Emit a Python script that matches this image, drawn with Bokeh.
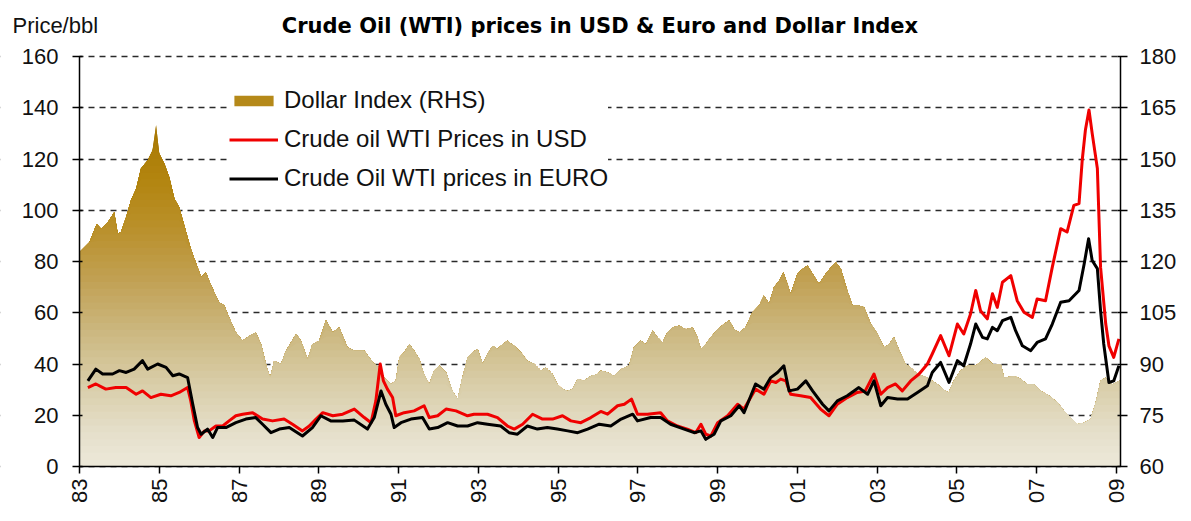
import math
import numpy as np
from bokeh.plotting import figure
from bokeh.models import Range1d, LinearAxis, FixedTicker, Legend, LegendItem, Label
from bokeh.core.properties import value
from bokeh.embed import file_html
from bokeh.resources import INLINE

# ---------------- data ----------------
TITLE = "Crude Oil (WTI) prices in USD & Euro and Dollar Index"
Y_LABEL = "Price/bbl"
LEFT_TICKS = [0, 20, 40, 60, 80, 100, 120, 140, 160]
RIGHT_TICKS = [60, 75, 90, 105, 120, 135, 150, 165, 180]
X_TICKS = [1983, 1985, 1987, 1989, 1991, 1993, 1995, 1997, 1999, 2001, 2003, 2005, 2007, 2009]
X_LABELS = ["83", "85", "87", "89", "91", "93", "95", "97", "99", "01", "03", "05", "07", "09"]
SERIES_NAMES = ["Dollar Index (RHS)", "Crude oil WTI Prices in USD", "Crude Oil WTI prices in EURO"]

DOLLAR_YEARS = [1983.00, 1983.25, 1983.43, 1983.54, 1983.71, 1983.87, 1983.96, 1984.04, 1984.17, 1984.29,
                1984.42, 1984.54, 1984.71, 1984.83, 1984.92, 1985.00, 1985.13, 1985.25, 1985.38, 1985.50,
                1985.63, 1985.79, 1985.96, 1986.05, 1986.17, 1986.25, 1986.38, 1986.50, 1986.63, 1986.75,
                1986.92, 1987.09, 1987.26, 1987.42, 1987.55, 1987.72, 1987.78, 1987.88, 1988.05, 1988.18,
                1988.43, 1988.55, 1988.72, 1988.84, 1989.01, 1989.18, 1989.35, 1989.51, 1989.72, 1989.89,
                1990.14, 1990.26, 1990.39, 1990.51, 1990.64, 1990.81, 1990.93, 1991.02, 1991.14, 1991.27,
                1991.39, 1991.52, 1991.64, 1991.77, 1991.89, 1992.02, 1992.19, 1992.35, 1992.48, 1992.60,
                1992.73, 1992.85, 1992.98, 1993.11, 1993.23, 1993.36, 1993.48, 1993.61, 1993.73, 1993.90,
                1994.07, 1994.23, 1994.40, 1994.57, 1994.69, 1994.86, 1994.98, 1995.11, 1995.24, 1995.36,
                1995.49, 1995.65, 1995.82, 1995.99, 1996.07, 1996.24, 1996.40, 1996.58, 1996.78, 1996.90,
                1997.07, 1997.20, 1997.37, 1997.49, 1997.62, 1997.74, 1997.87, 1998.03, 1998.20, 1998.37,
                1998.49, 1998.58, 1998.70, 1998.83, 1999.00, 1999.16, 1999.29, 1999.41, 1999.54, 1999.70,
                1999.87, 2000.04, 2000.16, 2000.29, 2000.41, 2000.54, 2000.65, 2000.75, 2000.83, 2001.00,
                2001.13, 2001.25, 2001.38, 2001.54, 2001.71, 2001.88, 2001.96, 2002.09, 2002.25, 2002.38,
                2002.54, 2002.67, 2002.84, 2003.01, 2003.17, 2003.30, 2003.42, 2003.59, 2003.71, 2003.84,
                2004.01, 2004.26, 2004.51, 2004.67, 2004.79, 2004.92, 2005.09, 2005.26, 2005.47, 2005.72,
                2005.89, 2006.10, 2006.18, 2006.43, 2006.60, 2006.76, 2006.93, 2007.10, 2007.31, 2007.52,
                2007.68, 2007.89, 2008.02, 2008.19, 2008.35, 2008.48, 2008.60, 2008.73, 2008.90, 2009.08]
DOLLAR_INDEX = [122.7, 125.6, 131.0, 129.6, 131.5, 134.4, 128.1, 128.6, 133.0, 137.9,
                141.3, 147.2, 149.6, 152.5, 159.9, 151.6, 148.6, 144.7, 138.4, 135.9,
                130.5, 123.7, 118.3, 115.4, 116.8, 114.4, 111.0, 108.0, 107.1, 103.6,
                99.2, 96.8, 98.3, 99.2, 95.8, 88.0, 86.0, 90.9, 90.0, 93.9,
                98.8, 96.8, 91.4, 95.8, 96.8, 102.7, 99.2, 100.7, 94.8, 93.9,
                93.9, 91.9, 90.0, 89.0, 86.0, 84.1, 85.1, 91.9, 93.4, 95.8,
                93.9, 91.4, 87.0, 84.1, 88.0, 89.5, 87.5, 82.1, 79.7, 86.0,
                91.9, 93.4, 94.4, 90.0, 92.9, 95.3, 94.4, 95.8, 96.8, 95.3,
                93.4, 90.9, 90.0, 88.0, 89.0, 87.0, 84.1, 82.6, 82.1, 82.6,
                85.6, 85.1, 86.5, 87.0, 88.0, 87.5, 86.5, 88.5, 89.5, 94.8,
                96.8, 95.8, 99.7, 97.8, 96.3, 99.2, 100.7, 101.2, 100.2, 100.7,
                97.8, 94.4, 95.8, 97.8, 100.2, 101.7, 102.7, 100.2, 99.2, 100.7,
                105.1, 107.1, 110.0, 107.6, 112.4, 114.4, 116.8, 113.4, 110.5, 116.4,
                117.8, 118.8, 116.4, 113.4, 116.4, 118.8, 119.8, 117.8, 111.5, 107.1,
                107.1, 106.6, 101.7, 98.8, 94.8, 95.8, 97.8, 92.9, 90.0, 89.0,
                87.0, 86.0, 84.1, 82.5, 81.6, 85.1, 88.0, 89.5, 89.5, 91.9,
                90.0, 90.0, 86.0, 86.5, 85.6, 84.1, 84.1, 82.1, 80.7, 78.7,
                76.3, 73.8, 72.4, 72.8, 73.8, 78.7, 85.1, 86.0, 84.1, 85.1]

USD_YEARS = [1983.21, 1983.41, 1983.66, 1983.91, 1984.17, 1984.42, 1984.58, 1984.79, 1985.04, 1985.29,
             1985.50, 1985.71, 1985.79, 1985.88, 1986.00, 1986.13, 1986.25, 1986.42, 1986.59, 1986.75,
             1986.92, 1987.09, 1987.34, 1987.59, 1987.84, 1988.13, 1988.34, 1988.59, 1988.76, 1988.93,
             1989.10, 1989.35, 1989.60, 1989.89, 1990.14, 1990.31, 1990.43, 1990.54, 1990.62, 1990.72,
             1990.85, 1990.93, 1991.14, 1991.39, 1991.64, 1991.77, 1991.98, 1992.19, 1992.44, 1992.73,
             1992.89, 1993.23, 1993.48, 1993.73, 1993.90, 1994.11, 1994.36, 1994.61, 1994.86, 1995.11,
             1995.32, 1995.57, 1995.82, 1996.07, 1996.24, 1996.49, 1996.66, 1996.84, 1996.99, 1997.24,
             1997.57, 1997.74, 1997.99, 1998.24, 1998.45, 1998.58, 1998.70, 1998.83, 1999.00, 1999.25,
             1999.50, 1999.66, 1999.95, 2000.16, 2000.33, 2000.46, 2000.58, 2000.71, 2000.83, 2001.08,
             2001.33, 2001.58, 2001.79, 2002.00, 2002.25, 2002.50, 2002.70, 2002.92, 2003.09, 2003.26,
             2003.46, 2003.63, 2003.84, 2004.05, 2004.26, 2004.38, 2004.59, 2004.80, 2005.01, 2005.17,
             2005.34, 2005.47, 2005.59, 2005.76, 2005.89, 2006.01, 2006.14, 2006.35, 2006.51, 2006.68,
             2006.89, 2007.01, 2007.22, 2007.39, 2007.60, 2007.76, 2007.93, 2008.06, 2008.14, 2008.22,
             2008.31, 2008.39, 2008.52, 2008.60, 2008.73, 2008.81, 2008.93, 2009.06]
USD_PRICE = [30.8, 32.2, 30.2, 30.8, 30.8, 28.2, 29.5, 26.9, 28.2, 27.6,
             28.9, 30.8, 25.6, 17.8, 11.3, 13.9, 13.9, 15.8, 15.8, 17.8,
             19.8, 20.4, 21.0, 18.5, 17.8, 18.5, 16.5, 13.9, 15.8, 18.5,
             21.0, 19.8, 20.4, 22.4, 19.1, 17.1, 25.6, 40.0, 33.4, 30.2,
             26.9, 19.8, 21.0, 21.7, 23.7, 19.1, 19.8, 22.4, 21.7, 19.8,
             20.4, 20.4, 19.1, 15.8, 14.6, 16.5, 20.4, 18.5, 18.5, 19.8,
             17.8, 17.1, 19.1, 21.5, 20.4, 23.7, 24.3, 26.3, 20.4, 20.4,
             21.0, 17.8, 15.8, 14.6, 13.2, 16.5, 12.6, 11.9, 17.1, 19.8,
             24.3, 22.4, 30.2, 28.2, 33.4, 32.8, 34.1, 33.4, 28.2, 27.6,
             26.9, 22.4, 19.8, 24.3, 26.9, 28.9, 29.5, 36.1, 28.2, 30.8,
             32.2, 29.5, 33.4, 36.1, 40.0, 43.9, 51.1, 43.2, 55.6, 51.7,
             59.5, 68.7, 60.8, 57.6, 67.4, 62.1, 71.9, 74.5, 64.7, 60.2,
             58.2, 65.4, 64.7, 77.8, 92.8, 91.5, 101.9, 102.6, 119.5, 131.3,
             139.1, 130.0, 116.3, 77.8, 55.6, 47.1, 42.6, 49.8]

EUR_YEARS = [1983.21, 1983.41, 1983.58, 1983.83, 1984.00, 1984.17, 1984.37, 1984.58, 1984.71, 1984.96,
             1985.17, 1985.34, 1985.50, 1985.71, 1985.84, 1985.96, 1986.05, 1986.21, 1986.34, 1986.46,
             1986.67, 1986.92, 1987.17, 1987.42, 1987.59, 1987.80, 1988.01, 1988.26, 1988.59, 1988.84,
             1989.05, 1989.30, 1989.60, 1989.89, 1990.22, 1990.39, 1990.56, 1990.68, 1990.81, 1990.89,
             1991.06, 1991.31, 1991.60, 1991.77, 1991.98, 1992.23, 1992.48, 1992.73, 1992.98, 1993.23,
             1993.56, 1993.77, 1993.98, 1994.23, 1994.48, 1994.73, 1994.98, 1995.24, 1995.49, 1995.74,
             1996.03, 1996.32, 1996.58, 1996.87, 1996.99, 1997.32, 1997.57, 1997.82, 1998.16, 1998.41,
             1998.58, 1998.70, 1998.91, 1999.08, 1999.33, 1999.54, 1999.66, 1999.95, 2000.16, 2000.33,
             2000.50, 2000.66, 2000.79, 2001.00, 2001.21, 2001.38, 2001.63, 2001.79, 2002.00, 2002.25,
             2002.54, 2002.76, 2002.92, 2003.09, 2003.26, 2003.51, 2003.76, 2004.01, 2004.26, 2004.38,
             2004.59, 2004.80, 2005.01, 2005.17, 2005.34, 2005.47, 2005.64, 2005.76, 2005.89, 2006.01,
             2006.14, 2006.35, 2006.47, 2006.64, 2006.85, 2007.01, 2007.22, 2007.39, 2007.60, 2007.81,
             2008.06, 2008.19, 2008.30, 2008.39, 2008.52, 2008.60, 2008.68, 2008.81, 2008.93, 2009.06]
EUR_PRICE = [33.4, 38.0, 36.1, 36.1, 37.4, 36.7, 38.0, 41.3, 38.0, 40.0,
             38.7, 35.4, 36.1, 34.7, 24.3, 15.2, 12.6, 14.6, 11.3, 15.2,
             15.2, 17.1, 18.5, 19.1, 16.5, 13.2, 14.6, 15.2, 11.9, 15.2,
             19.8, 17.8, 17.8, 18.1, 14.6, 19.1, 29.5, 24.3, 20.4, 15.2,
             17.1, 18.5, 19.1, 14.6, 15.2, 17.1, 15.8, 15.8, 17.1, 16.5,
             15.8, 13.2, 12.6, 15.8, 14.6, 15.2, 14.6, 13.9, 13.2, 14.6,
             16.5, 15.8, 18.5, 20.4, 17.8, 19.1, 19.1, 16.5, 14.6, 13.2,
             13.9, 10.6, 12.6, 17.8, 19.8, 23.7, 21.0, 32.2, 30.2, 34.7,
             36.7, 39.3, 29.5, 30.2, 33.4, 29.5, 24.3, 21.7, 25.6, 27.6,
             30.8, 28.2, 33.4, 23.7, 26.9, 26.3, 26.3, 28.9, 31.5, 36.7,
             40.6, 32.8, 41.3, 39.3, 47.8, 55.6, 50.4, 49.8, 54.3, 53.0,
             56.9, 58.2, 53.0, 47.1, 45.2, 48.4, 49.8, 55.6, 64.1, 64.7,
             68.7, 79.1, 88.9, 80.4, 77.2, 60.8, 47.8, 32.8, 33.4, 39.3]

# ---------------- styles / layout ----------------
FONT = "Liberation Sans"
TITLE_FONT = "DejaVu Sans"
GRAD_STOPS = [(60, (237, 233, 218)), (70, (229, 223, 202)), (85, (216, 204, 166)),
              (100, (203, 183, 126)), (115, (193, 160, 82)), (130, (186, 144, 42)),
              (145, (178, 132, 14)), (160, (168, 120, 4)), (182, (160, 112, 0))]
PAGE_W = 1183
PAGE_H = 513
BORDER_TOP = 10
LEFT_GUTTER_PX = 79                 # room for left tick labels, kept inside the frame
RIGHT_GUTTER_PX = 63                # room for right tick labels, kept inside the frame
BOTTOM_GUTTER_PX = 47               # room for x tick labels, kept inside the frame
X_START, X_END = X_TICKS[0], 2009.1
PX_PER_YEAR = (PAGE_W - RIGHT_GUTTER_PX - LEFT_GUTTER_PX) / (X_END - X_START)
X_FRAME_START = X_START - LEFT_GUTTER_PX / PX_PER_YEAR
X_FRAME_END = X_END + RIGHT_GUTTER_PX / PX_PER_YEAR
PX_PER_UNIT = 2.5625                # 160 units over 410 px
TOP_PAD_PX = 46
Y_TOP = LEFT_TICKS[-1] + TOP_PAD_PX / PX_PER_UNIT
Y_BOTTOM = LEFT_TICKS[0] - BOTTOM_GUTTER_PX / PX_PER_UNIT
R_SCALE = (RIGHT_TICKS[-1] - RIGHT_TICKS[0]) / (LEFT_TICKS[-1] - LEFT_TICKS[0])
HEAD_OFFSET_PX = 31


def grad_color(v):
    vs = [s[0] for s in GRAD_STOPS]
    rgb = [int(round(np.interp(v, vs, [s[1][i] for s in GRAD_STOPS]))) for i in range(3)]
    return "#%02x%02x%02x" % tuple(rgb)


p = figure(width=PAGE_W, height=PAGE_H, x_range=Range1d(X_FRAME_START, X_FRAME_END),
           y_range=Range1d(Y_BOTTOM, Y_TOP), output_backend="svg", toolbar_location=None,
           min_border_left=0, min_border_right=0, min_border_top=BORDER_TOP, min_border_bottom=0)
p.outline_line_color = None
p.background_fill_color = "white"
p.border_fill_color = "white"

p.extra_y_ranges = {"dollar": Range1d(RIGHT_TICKS[0] + R_SCALE * Y_BOTTOM, RIGHT_TICKS[0] + R_SCALE * Y_TOP)}

la = p.left[0]
la.ticker = FixedTicker(ticks=LEFT_TICKS)
la.bounds = (LEFT_TICKS[0], LEFT_TICKS[-1])
la.fixed_location = X_START
ra = LinearAxis(y_range_name="dollar", ticker=FixedTicker(ticks=RIGHT_TICKS))
ra.bounds = (RIGHT_TICKS[0], RIGHT_TICKS[-1])
ra.fixed_location = X_END
p.add_layout(ra, "right")
for ax in (la, ra):
    ax.axis_line_color = "black"
    ax.axis_line_width = 1.5
    ax.major_tick_line_color = "black"
    ax.major_tick_line_width = 1.5
    ax.major_tick_out = 7
    ax.major_tick_in = 3
    ax.minor_tick_line_color = None
    ax.major_label_text_font = FONT
    ax.major_label_text_font_size = "22px"
    ax.major_label_text_color = "#111111"
la.major_label_standoff = 14
ra.major_label_standoff = 12

xa = p.below[0]
xa.ticker = FixedTicker(ticks=X_TICKS)
xa.bounds = (X_START, X_END)
xa.fixed_location = LEFT_TICKS[0]
xa.major_label_overrides = {t: l for t, l in zip(X_TICKS, X_LABELS)}
xa.major_label_orientation = math.pi / 2
xa.axis_line_color = "black"
xa.axis_line_width = 1.5
xa.major_tick_line_color = "black"
xa.major_tick_line_width = 1.5
xa.major_tick_out = 7
xa.major_tick_in = 0
xa.minor_tick_line_color = None
xa.major_label_standoff = 5
xa.major_label_text_font = FONT
xa.major_label_text_font_size = "22px"
xa.major_label_text_color = "#111111"

p.xgrid.visible = False
p.ygrid.grid_line_color = "#2a2a2a"
p.ygrid.grid_line_dash = "6 5"
p.ygrid.grid_line_width = 1.3

# white masks over the gutters so grid lines run only between the two axes
p.quad(left=[X_FRAME_START, X_END], right=[X_START, X_FRAME_END], bottom=[Y_BOTTOM, Y_BOTTOM],
       top=[Y_TOP, Y_TOP], fill_color="white", line_color=None)

# gradient area (Dollar index, RHS) built from stacked bands
d_years = np.array(DOLLAR_YEARS)
d_vals = np.array(DOLLAR_INDEX)
base = float(RIGHT_TICKS[0])
levels = list(range(162, 60, -2))
band_renderers = {}
for hi in levels:
    r = p.varea(x=d_years, y1=np.full_like(d_vals, base), y2=np.minimum(d_vals, hi),
                fill_color=grad_color(hi - 1), fill_alpha=1.0, y_range_name="dollar")
    band_renderers[hi] = r

usd = p.line(USD_YEARS, USD_PRICE, line_color="#f00000", line_width=3, line_join="round")
eur = p.line(EUR_YEARS, EUR_PRICE, line_color="black", line_width=3, line_join="round")

legend = Legend(items=[LegendItem(label=SERIES_NAMES[0], renderers=[band_renderers[140]]),
                       LegendItem(label=SERIES_NAMES[1], renderers=[usd]),
                       LegendItem(label=SERIES_NAMES[2], renderers=[eur])],
                location=(150 + LEFT_GUTTER_PX, 274 + BOTTOM_GUTTER_PX))
legend.background_fill_color = "white"
legend.background_fill_alpha = 1.0
legend.border_line_color = None
legend.label_text_font = FONT
legend.label_text_font_size = "24px"
legend.label_text_color = "#111111"
legend.glyph_width = 49
legend.glyph_height = 13
legend.label_height = 28
legend.label_standoff = 6
legend.spacing = 11
legend.padding = 15
legend.margin = 0
p.add_layout(legend)

# header texts
head_y = LEFT_TICKS[-1] + HEAD_OFFSET_PX / PX_PER_UNIT
x_mid = (X_START + X_END) / 2
p.text(x=[x_mid], y=[head_y], text=[TITLE], text_align="center", text_baseline="middle",
       text_font=value(TITLE_FONT), text_font_style="bold", text_font_size="21px", text_color="black")
p.add_layout(Label(x=X_FRAME_START, y=head_y, x_offset=12, text=Y_LABEL,
                   text_align="left", text_baseline="middle", text_font=FONT,
                   text_font_size="22px", text_color="#111111"))

open("out.html", "w").write(file_html(p, INLINE))
